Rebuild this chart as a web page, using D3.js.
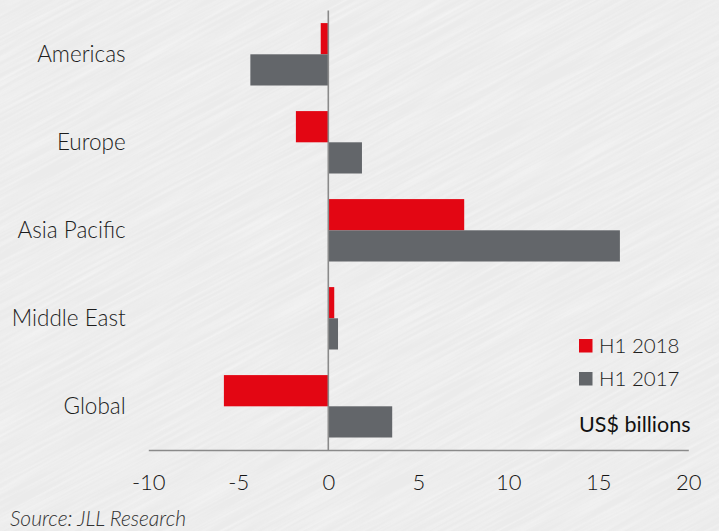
<!DOCTYPE html>
<html>
<head>
<meta charset="utf-8">
<title>Net absorption by region</title>
<script src="https://cdn.jsdelivr.net/npm/d3@7"></script>
<style>
  html, body { margin: 0; padding: 0; background: #ececec; }
  svg { display: block; }
  text { font-family: Lato, "Open Sans", sans-serif; }
</style>
</head>
<body>
<svg width="719" height="531"></svg>
<script>
// data (US$ billions)
var regions = ["Americas", "Europe", "Asia Pacific", "Middle East", "Global"];
var seriesNames = ["H1 2018", "H1 2017"];
var h1_2018 = [-0.42, -1.8, 7.55, 0.33, -5.8];
var h1_2017 = [-4.33, 1.87, 16.2, 0.54, 3.55];
var xTicks = [-10, -5, 0, 5, 10, 15, 20];
var colors = ["#e30613", "#63666a"];

var svg = d3.select("svg");
var width = +svg.attr("width"), height = +svg.attr("height");

// textured light grey background
var defs = svg.append("defs");
var f = defs.append("filter").attr("id", "tex").attr("x", 0).attr("y", 0).attr("width", "100%").attr("height", "100%");
f.append("feTurbulence").attr("type", "fractalNoise").attr("baseFrequency", "0.012 0.35").attr("numOctaves", 2).attr("seed", 4);
f.append("feColorMatrix").attr("type", "matrix")
  .attr("values", "0 0 0 0 1  0 0 0 0 1  0 0 0 0 1  0 0 0 -1.6 1.05");
svg.append("rect").attr("width", width).attr("height", height).attr("fill", "#ebebeb");
svg.append("rect").attr("width", width * 1.6).attr("height", height * 1.6)
  .attr("x", -200).attr("y", -150)
  .attr("transform", "rotate(-28 360 265)")
  .attr("filter", "url(#tex)").attr("opacity", 0.45);

var x = d3.scaleLinear().domain([-10, 20]).range([148.3, 688.3]);
var y = d3.scaleBand().domain(regions).range([10.3, 450.3]).padding(0);
var ySub = d3.scaleBand().domain(seriesNames).range([0, y.bandwidth()]).paddingInner(0).paddingOuter(0.41);

var rows = regions.map(function(r, i) {
  return { region: r, vals: [h1_2018[i], h1_2017[i]] };
});

var g = svg.append("g");
var groups = g.selectAll(".grp").data(rows).enter().append("g")
  .attr("transform", function(d) { return "translate(0," + y(d.region) + ")"; });

groups.selectAll("rect").data(function(d) {
  return d.vals.map(function(v, j) { return { key: seriesNames[j], v: v, c: colors[j] }; });
}).enter().append("rect")
  .attr("x", function(d) { return x(Math.min(0, d.v)); })
  .attr("width", function(d) { return Math.abs(x(d.v) - x(0)); })
  .attr("y", function(d) { return ySub(d.key); })
  .attr("height", ySub.bandwidth())
  .attr("fill", function(d) { return d.c; });

// category labels
groups.append("text")
  .attr("x", 125.7)
  .attr("y", y.bandwidth() / 2 + 8)
  .attr("text-anchor", "end")
  .attr("font-size", 22.5)
  .attr("font-weight", 300)
  .attr("fill", "#1c1c1c")
  .text(function(d) { return d.region; });

// zero line
svg.append("line")
  .attr("x1", x(0)).attr("x2", x(0))
  .attr("y1", 10.5).attr("y2", 450)
  .attr("stroke", "#8a8a8a").attr("stroke-width", 1.6);

// x axis
var xAxis = d3.axisBottom(x).tickValues(xTicks).tickSize(0).tickPadding(0)
  .tickFormat(d3.format("d"));
var ax = svg.append("g").attr("transform", "translate(0,450)").call(xAxis);
ax.select(".domain").attr("stroke", "#8a8a8a").attr("stroke-width", 1.6);
ax.selectAll("text")
  .attr("y", 40).attr("dy", 0)
  .attr("font-size", 22).attr("font-weight", 300)
  .attr("font-family", "Lato, 'Open Sans', sans-serif")
  .attr("fill", "#141414")
  .text(function(d) { return d < 0 ? "-" + Math.abs(d) : d; });

// legend
var leg = svg.append("g").attr("transform", "translate(579,339)");
seriesNames.forEach(function(s, i) {
  var row = leg.append("g").attr("transform", "translate(0," + (i * 33) + ")");
  row.append("rect").attr("width", 13.5).attr("height", 13.5).attr("fill", colors[i]);
  row.append("text").attr("x", 20).attr("y", 13.5)
    .attr("font-size", 20.5).attr("font-weight", 300).attr("fill", "#1c1c1c").text(s);
});
svg.append("text").attr("x", 579).attr("y", 431.5)
  .attr("font-size", 21.5).attr("font-weight", 400).attr("fill", "#111")
  .text("US$ billions");

// source
svg.append("text").attr("x", 10).attr("y", 526)
  .attr("font-size", 21).attr("font-weight", 300).attr("font-style", "italic")
  .attr("fill", "#333")
  .text("Source: JLL Research");
</script>
</body>
</html>
